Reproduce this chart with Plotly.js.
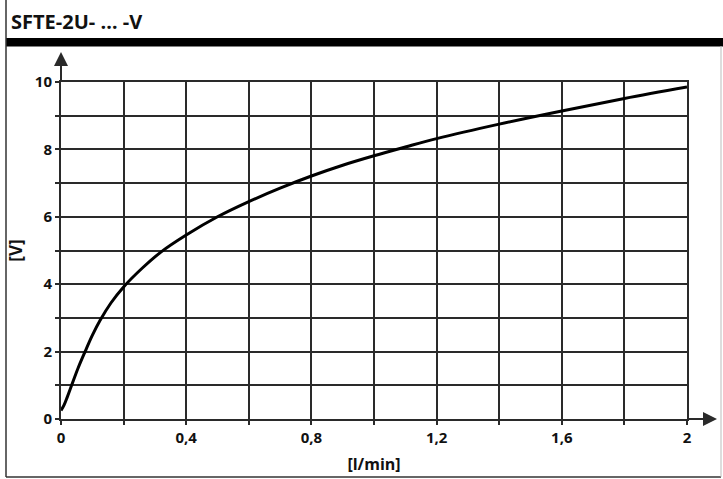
<!DOCTYPE html>
<html>
<head>
<meta charset="utf-8">
<script src="https://cdn.plot.ly/plotly-3.0.1.min.js"></script>
<style>
  html, body { margin: 0; padding: 0; background: #fff; }
  #chart { width: 723px; height: 479px; }
</style>
</head>
<body>
<div id="chart"></div>
<script>
// curve
const flow = [0, 0.01, 0.02, 0.034, 0.055, 0.077, 0.1, 0.125, 0.16, 0.2, 0.26, 0.32, 0.4, 0.5, 0.6, 0.7, 0.8, 0.9, 1.0, 1.1, 1.2, 1.4, 1.6, 1.8, 2.0];
const voltage = [0.25, 0.42, 0.65, 1.0, 1.52, 2.0, 2.48, 2.93, 3.45, 3.92, 4.48, 4.96, 5.46, 6.0, 6.45, 6.85, 7.21, 7.53, 7.81, 8.07, 8.32, 8.75, 9.14, 9.51, 9.85];

const xTicks = [0, 0.2, 0.4, 0.6, 0.8, 1.0, 1.2, 1.4, 1.6, 1.8, 2.0];
const xTickText = ['0', '', '0,4', '', '0,8', '', '1,2', '', '1,6', '', '2'];
const yTicks = [0, 1, 2, 3, 4, 5, 6, 7, 8, 9, 10];
const yTickText = ['0', '', '2', '', '4', '', '6', '', '8', '', '10'];

const chartTitle = 'SFTE-2U- … -V';
const xTitle = '[l/min]';
const yTitle = '[V]';

// page geometry in pixels
const W = 723, H = 479;
const M = { l: 61, r: 36, t: 82, b: 60 };
const pw = W - M.l - M.r, ph = H - M.t - M.b;
const px = v => (v - M.l) / pw;          // pixel x -> paper x
const py = v => (H - M.b - v) / ph;      // pixel y -> paper y

const font = { family: '"Open Sans", "Noto Sans", sans-serif', color: '#111', weight: 'bold' };
const ink = '#2a2a2a';

const trace = {
    x: flow,
    y: voltage,
    mode: 'lines',
    type: 'scatter',
    line: { color: '#000', width: 3, shape: 'spline', smoothing: 1 },
    hoverinfo: 'skip'
};

const layout = {
    width: W,
    height: H,
    margin: M,
    paper_bgcolor: '#fff',
    plot_bgcolor: '#fff',
    showlegend: false,
    font: Object.assign({ size: 15 }, font),
    title: {
        text: chartTitle,
        font: Object.assign({}, font, { size: 20 }),
        xref: 'container', yref: 'container',
        x: 11 / W, xanchor: 'left',
        y: 1 - 22 / H, yanchor: 'middle'
    },
    xaxis: {
        range: [0, 2],
        tickvals: xTicks,
        ticktext: xTickText,
        ticks: 'outside', ticklen: 4, tickwidth: 2, tickcolor: ink,
        showgrid: true, gridcolor: ink, gridwidth: 2,
        zeroline: false,
        showline: true, linecolor: ink, linewidth: 2, mirror: true,
        tickfont: Object.assign({}, font, { size: 15 }),
        title: { text: xTitle, font: Object.assign({}, font, { size: 16 }), standoff: 13 },
        fixedrange: true
    },
    yaxis: {
        range: [0, 10],
        tickvals: yTicks,
        ticktext: yTickText,
        ticks: 'outside', ticklen: 4, tickwidth: 2, tickcolor: ink,
        showgrid: true, gridcolor: ink, gridwidth: 2,
        zeroline: false,
        showline: true, linecolor: ink, linewidth: 2, mirror: true,
        tickfont: Object.assign({}, font, { size: 15 }),
        title: { text: yTitle, font: Object.assign({}, font, { size: 17 }), standoff: 8 },
        fixedrange: true
    },
    shapes: [
        // thick bar under the heading
        { type: 'rect', xref: 'paper', yref: 'paper', x0: px(6), x1: px(W), y0: py(46.5), y1: py(38),
          fillcolor: '#000', line: { width: 0 }, layer: 'above' },
        // page frame: left, bottom, right
        { type: 'line', xref: 'paper', yref: 'paper', x0: px(6), x1: px(6), y0: py(0), y1: py(477),
          line: { color: '#333', width: 1.5 } },
        { type: 'line', xref: 'paper', yref: 'paper', x0: px(6), x1: px(721), y0: py(477), y1: py(477),
          line: { color: '#333', width: 1.5 } },
        { type: 'line', xref: 'paper', yref: 'paper', x0: px(721), x1: px(721), y0: py(46), y1: py(477),
          line: { color: '#bbb', width: 1 } }
    ],
    annotations: [
        // axis arrows
        { xref: 'paper', yref: 'paper', x: 0, y: py(52), ax: 0, ay: 30, text: '',
          showarrow: true, arrowhead: 2, arrowsize: 1.4, arrowwidth: 2, arrowcolor: ink },
        { xref: 'paper', yref: 'paper', x: px(717), y: 0, ax: -31, ay: 0, text: '',
          showarrow: true, arrowhead: 2, arrowsize: 1.4, arrowwidth: 2, arrowcolor: ink }
    ]
};

Plotly.newPlot('chart', [trace], layout, { staticPlot: true, displayModeBar: false });
</script>
</body>
</html>
